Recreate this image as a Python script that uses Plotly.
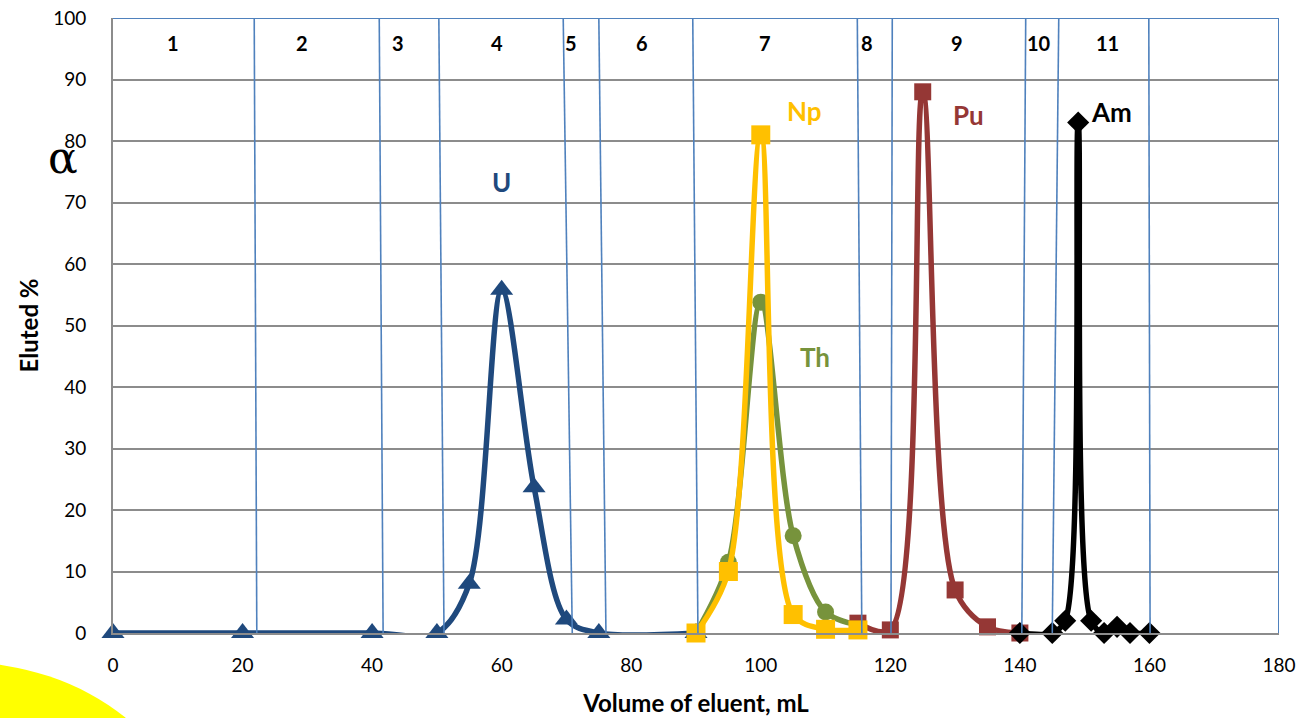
import plotly.graph_objects as go

# ---- data ----
u_x = [0, 20, 40, 50, 55, 60, 65, 70, 75, 90]
u_y = [0, 0, 0, 0, 8, 55.8, 23.7, 2.2, 0, 0]

th_x = [90, 95, 100, 105, 110, 115]
th_y = [0, 11.5, 53.8, 15.8, 3.4, 1.3]

np_x = [90, 95, 100, 105, 110, 115]
np_y = [0, 10, 81, 3, 0.6, 0.5]

pu_x = [115, 120, 125, 130, 135, 140]
pu_y = [1.6, 0.5, 88, 7, 1, 0]

am_x = [140, 145, 147, 149, 151, 153, 155, 157, 160]
am_y = [0, 0, 2, 83, 2, 0, 1, 0, 0]

# fraction boundaries (top / bottom x of the separator lines)
cut_top = [21.8, 41.1, 50.3, 69.5, 75.0, 89.5, 114.9, 120.3, 140.9, 146.0, 159.9]
cut_bot = [22.2, 41.7, 51.1, 70.9, 76.1, 90.3, 115.6, 120.1, 140.3, 145.0, 160.1]

frac_labels = ["1", "2", "3", "4", "5", "6", "7", "8", "9", "10", "11"]
frac_x = [9.3, 29.2, 44.0, 59.3, 70.7, 81.7, 100.6, 116.4, 130.3, 143.0, 153.6]

x_ticks = [0, 20, 40, 60, 80, 100, 120, 140, 160, 180]
y_ticks = [0, 10, 20, 30, 40, 50, 60, 70, 80, 90, 100]

C_U = "#1F497D"
C_TH = "#77933C"
C_NP = "#FFC000"
C_PU = "#953735"
C_AM = "#000000"
C_SEP = "#4F81BD"
C_GRID = "#8C8C8C"
FONT = "Lato"

fig = go.Figure()

def add(x, y, color, symbol, size, name):
    fig.add_trace(go.Scatter(
        x=x, y=y, name=name, mode="lines+markers", cliponaxis=False,
        line=dict(color=color, width=5.5, shape="spline", smoothing=0.9),
        marker=dict(color=color, symbol=symbol, size=size, line=dict(width=0)),
        showlegend=False))

add(u_x, u_y, C_U, "triangle-up", 20, "U")
add(th_x, th_y, C_TH, "circle", 17, "Th")
add(pu_x, pu_y, C_PU, "square", 17, "Pu")
add(np_x, np_y, C_NP, "square", 19, "Np")
add(am_x, am_y, C_AM, "diamond", 17, "Am")

shapes = []
# yellow blob at bottom-left (outside the plot)
shapes.append(dict(type="circle", xref="paper", yref="paper",
                   x0=-0.331, x1=0.0686, y0=-0.6585, y1=-0.0472,
                   fillcolor="#FFFF00", line=dict(width=0), layer="below"))
# fraction separators
for t, b in zip(cut_top, cut_bot):
    shapes.append(dict(type="line", xref="x", yref="y", x0=b, y0=0, x1=t, y1=100,
                       line=dict(color=C_SEP, width=1.6), layer="above"))
# top & right border
shapes.append(dict(type="line", xref="x", yref="y", x0=0, y0=100, x1=180, y1=100,
                   line=dict(color=C_SEP, width=2), layer="above"))
shapes.append(dict(type="line", xref="x", yref="y", x0=180, y0=0, x1=180, y1=100,
                   line=dict(color=C_SEP, width=2), layer="above"))

annotations = []
for lab, x in zip(frac_labels, frac_x):
    annotations.append(dict(x=x, y=95.9, xref="x", yref="y", text="<b>%s</b>" % lab,
                            showarrow=False, font=dict(family=FONT, size=20, color="#000000")))

for txt, x, y, c in [("U", 60.05, 73.3, C_U), ("Np", 106.7, 84.9, C_NP), ("Th", 108.4, 44.9, C_TH),
                     ("Pu", 132.0, 84.2, C_PU), ("Am", 154.1, 84.7, C_AM)]:
    annotations.append(dict(x=x, y=y, xref="x", yref="y", text="<b>%s</b>" % txt,
                            showarrow=False, font=dict(family=FONT, size=26, color=c)))

annotations.append(dict(x=(46 - 113) / 1166, y=(633 - 130) / 615, xref="paper", yref="paper",
                        text="α", showarrow=False,
                        font=dict(family="DejaVu Serif", size=44, color="#000000")))

fig.update_layout(
    width=1311, height=718,
    margin=dict(l=113, r=32, t=18, b=85, autoexpand=False),
    paper_bgcolor="white", plot_bgcolor="white",
    font=dict(family=FONT, size=19, color="#000000"),
    shapes=shapes, annotations=annotations,
    xaxis=dict(range=[0, 180], tickvals=x_ticks, showgrid=False, zeroline=False, automargin=False,
               showline=True, linecolor=C_GRID, linewidth=2, ticks="", ticklabelstandoff=14,
               tickfont=dict(size=19),
               title=dict(text="<b>Volume of eluent, mL</b>", font=dict(size=24), standoff=20)),
    yaxis=dict(range=[0, 100], tickvals=y_ticks, showgrid=True, gridcolor=C_GRID, gridwidth=2,
               zeroline=False, showline=True, linecolor=C_GRID, linewidth=2, ticks="", automargin=False,
               ticklabelstandoff=21, tickfont=dict(size=19),
               title=dict(text="<b>Eluted %</b>", font=dict(size=24), standoff=8)),
)

fig.write_html("out.html", config={"displayModeBar": False},
               post_script="document.body.style.margin='0';document.body.style.overflow='hidden';")
